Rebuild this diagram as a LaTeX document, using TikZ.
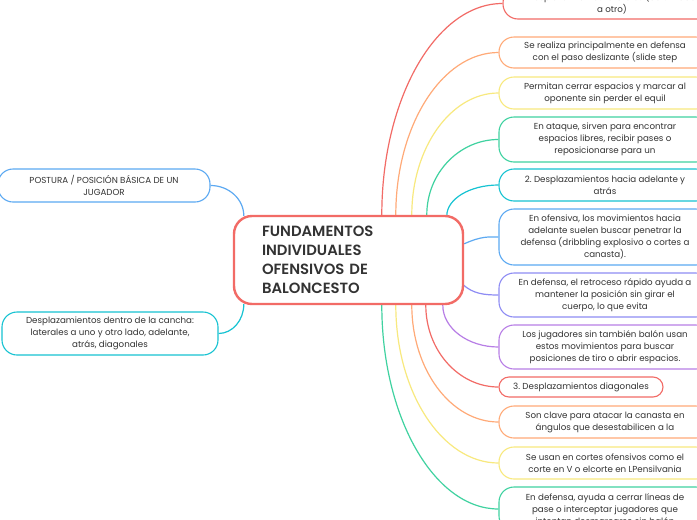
\documentclass[tikz,border=0pt]{standalone}
\usepackage{fontspec}
\setmainfont{Poppins}
\newfontfamily\titlefont{Poppins SemiBold}
\usetikzlibrary{calc}
\pgfdeclarelayer{bg}
\pgfsetlayers{bg,main}
\definecolor{cred}{HTML}{F26B66}
\definecolor{corange}{HTML}{FFAA78}
\definecolor{cyellow}{HTML}{F8E97E}
\definecolor{cgreen}{HTML}{3FD2A0}
\definecolor{ccyan}{HTML}{17C3D2}
\definecolor{cblue}{HTML}{5CA9F2}
\definecolor{clav}{HTML}{8E8CF4}
\definecolor{cpurple}{HTML}{B87EE6}
\definecolor{txt}{HTML}{333333}
\tikzset{
  leaf/.style={draw, line width=1.1pt, rounded corners=15pt, fill=white, align=center,
    text=txt, font=\fontsize{8.7}{12}\selectfont, inner sep=0pt, minimum width=212pt},
  conn/.style={line width=1.2pt},
  titlebox/.style={draw=cred, line width=2.4pt, rounded corners=18pt, fill=white,
    minimum width=229pt, minimum height=88pt, align=left, text width=173pt,
    inner xsep=28pt, inner ysep=0pt, text=txt, font=\fontsize{14.8}{19}\selectfont\titlefont}
}
\newcommand\linkto[3]{\draw[conn,#1] let \p1=(#2), \p2=(#3) in (\p1) .. controls (\x1,{\y1+0.55*(\y2-\y1)}) and ({\x2-0.55*(\x2-\x1)},\y2) .. (\p2);}
\begin{document}
\begin{tikzpicture}[x=1pt,y=-1pt]
\useasboundingbox (0,0) rectangle (697,520);
\clip (0,0) rectangle (697,520);
\node[titlebox] (c) at (348.5,260) {FUNDAMENTOS\\INDIVIDUALES\\OFENSIVOS DE\\BALONCESTO};
\coordinate (t1) at ($(c.north west)+(149,0)$);
\coordinate (t2) at ($(c.north west)+(163,0)$);
\coordinate (t3) at ($(c.north west)+(179,0)$);
\coordinate (t4) at ($(c.north west)+(194,0)$);
\coordinate (t5) at ($(c.north west)+(214,1)$);
\coordinate (s6) at ($(c.north east)+(0,29)$);
\coordinate (s7) at ($(c.north east)+(-1,70)$);
\coordinate (b8) at ($(c.south west)+(210,0)$);
\coordinate (b9) at ($(c.south west)+(193,0)$);
\coordinate (b10) at ($(c.south west)+(179,0)$);
\coordinate (b11) at ($(c.south west)+(163,0)$);
\coordinate (b12) at ($(c.south west)+(149,0)$);
\coordinate (tl) at ($(c.north west)+(11,1)$);
\coordinate (bl) at ($(c.south west)+(11,-1)$);

\node[leaf, draw=cred, minimum width=218pt, minimum height=31pt] (r1) at (612,3.5) {Desplazamientos laterales (de un lado\\a otro)};
\node[leaf, draw=corange, minimum height=31pt] (r2) at (605,52.5) {Se realiza principalmente en defensa\\con el paso deslizante (slide step};
\node[leaf, draw=cyellow, minimum height=32pt] (r3) at (605,93) {Permitan cerrar espacios y marcar al\\oponente sin perder el equil};
\node[leaf, draw=cgreen, minimum height=45pt] (r4) at (605,139.5) {En ataque, sirven para encontrar\\espacios libres, recibir pases o\\reposicionarse para un};
\node[leaf, draw=ccyan, minimum height=32pt] (r5) at (605,185) {2.\ Desplazamientos hacia adelante y\\atrás};
\node[leaf, draw=cblue, minimum height=56pt] (r6) at (605,237) {En ofensiva, los movimientos hacia\\adelante suelen buscar penetrar la\\defensa (dribbling explosivo o cortes a\\canasta).};
\node[leaf, draw=clav, minimum height=44pt] (r7) at (605,295) {En defensa, el retroceso rápido ayuda a\\mantener la posición sin girar el\\cuerpo, lo que evita};
\node[leaf, draw=cpurple, minimum height=44pt] (r8) at (605,347) {Los jugadores sin también balón usan\\estos movimientos para buscar\\posiciones de tiro o abrir espacios.};
\node[leaf, draw=cred, minimum width=164pt, minimum height=20pt, rounded corners=10pt] (r9) at (581,387) {3.\ Desplazamientos diagonales};
\node[leaf, draw=corange, minimum height=32pt] (r10) at (605,422) {Son clave para atacar la canasta en\\ángulos que desestabilicen a la};
\node[leaf, draw=cyellow, minimum height=32pt] (r11) at (605,463) {Se usan en cortes ofensivos como el\\corte en V o elcorte en LPensilvania};
\node[leaf, draw=cgreen, minimum height=44pt] (r12) at (605,509) {En defensa, ayuda a cerrar líneas de\\pase o interceptar jugadores que\\intentan desmarcarse sin balón};

\node[leaf, draw=cblue, minimum width=212pt, minimum height=33pt] (l1) at (104,185.5) {POSTURA / POSICIÓN BÁSICA DE UN\\JUGADOR};
\node[leaf, draw=ccyan, minimum width=216pt, minimum height=43pt] (l2) at (110,333.5) {Desplazamientos dentro de la cancha:\\laterales a uno y otro lado, adelante,\\atrás, diagonales};

\begin{pgfonlayer}{bg}
\fill[white] (0,0) rectangle (697,520);
\linkto{cred}{t1}{r1.west}
\linkto{corange}{t2}{r2.west}
\linkto{cyellow}{t3}{r3.west}
\linkto{cgreen}{t4}{r4.west}
\linkto{ccyan}{t5}{r5.west}
\draw[conn,cblue] (s6) .. controls ($(s6)+(18,-8)$) and ($(r6.west)+(-10,0)$) .. (r6.west);
\draw[conn,clav] (s7) .. controls ($(s7)+(10,9)$) and ($(r7.west)+(-14,0)$) .. (r7.west);
\linkto{cpurple}{b8}{r8.west}
\linkto{cred}{b9}{r9.west}
\linkto{corange}{b10}{r10.west}
\linkto{cyellow}{b11}{r11.west}
\linkto{cgreen}{b12}{r12.west}
\linkto{cblue}{tl}{l1.east}
\linkto{ccyan}{bl}{l2.east}
\end{pgfonlayer}
\end{tikzpicture}
\end{document}
